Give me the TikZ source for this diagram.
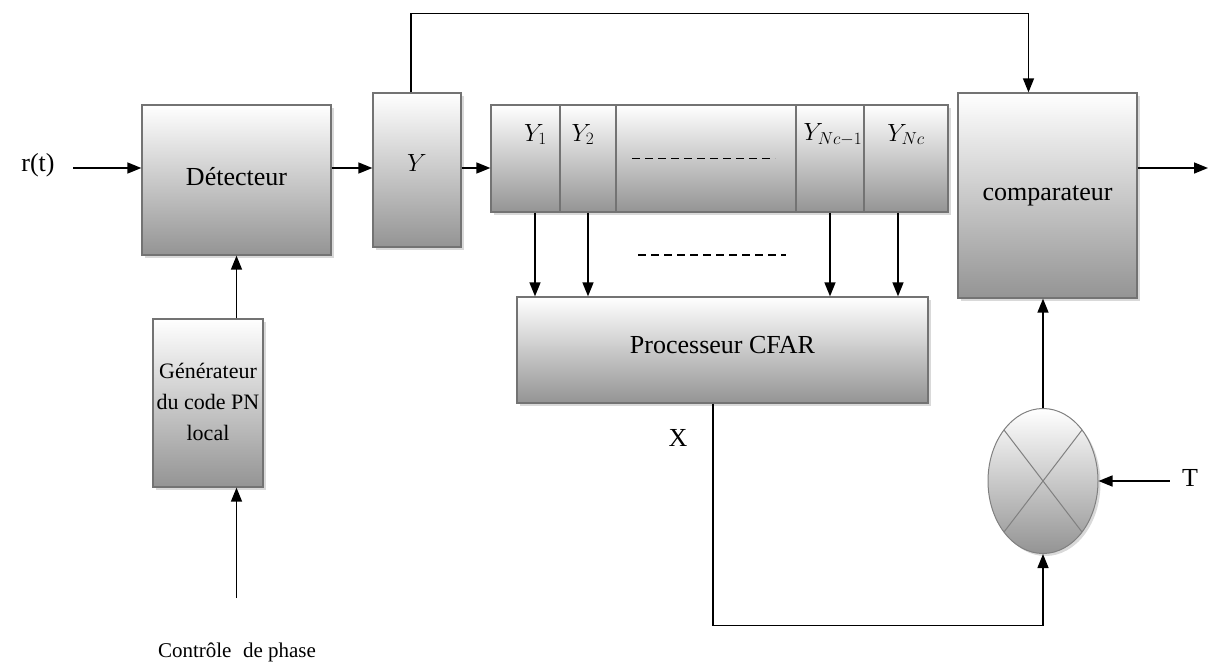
\documentclass[tikz,border=0pt]{standalone}
\usepackage{fontspec}
\setmainfont{Liberation Serif}
\usetikzlibrary{arrows.meta,shapes.geometric,shadows}
\begin{document}
\begin{tikzpicture}[x=1pt,y=-1pt,
  shade/.style={top color=white, bottom color=black!42},
  blk/.style={draw=black!55, line width=1.3pt, shade,
    drop shadow={shadow xshift=2.5pt,shadow yshift=-2.5pt,opacity=0.3},
    inner sep=0pt, font=\fontsize{26}{30}\selectfont},
  cell/.style={draw=black!55, line width=1.3pt, shade, inner sep=0pt, minimum height=107pt},
  arr/.style={line width=1.5pt, -{Triangle[length=14pt,width=11pt]}},
  ln/.style={line width=1.5pt},
  lbl/.style={font=\fontsize{26}{30}\selectfont, inner sep=0pt},
  ylab/.style={font=\fontsize{25}{28}\selectfont, inner sep=0pt}]
\useasboundingbox (0,0) rectangle (1211,670);

% blocks
\node[blk, minimum width=189pt, minimum height=150pt] (det) at (236.5,180) {\raisebox{8pt}{Détecteur}};
\node[blk, minimum width=88pt, minimum height=154pt] (yb) at (417,170) {\raisebox{14pt}{$Y$}};
\node[blk, minimum width=457pt, minimum height=107pt] (reg) at (719.5,158.5) {};
\node[cell, minimum width=69pt] (c1) at (525.5,158.5) {};
\node[cell, minimum width=56pt] (c2) at (588,158.5) {};
\node[cell, minimum width=180pt] (cd) at (706,158.5) {};
\node[cell, minimum width=68pt] (c3) at (830,158.5) {};
\node[cell, minimum width=84pt] (c4) at (906,158.5) {};
\node[ylab] (l1) at ([xshift=10pt,yshift=24pt]c1.center) {$Y_1$};
\node[ylab] (l2) at ([xshift=-5pt,yshift=24pt]c2.center) {$Y_2$};
\node[ylab] (l3) at ([xshift=3pt,yshift=24pt]c3.center) {$Y_{Nc-1}$};
\node[ylab] (l4) at ([yshift=24pt]c4.center) {$Y_{Nc}$};
\draw[ln, dash pattern=on 8pt off 5pt] ([xshift=-74pt]cd.center) -- ([xshift=69pt]cd.center);

\node[blk, minimum width=179pt, minimum height=205pt] (comp) at (1047.5,195.5) {comparateur};
\node[blk, minimum width=411pt, minimum height=106pt] (cfar) at (722.5,350) {\raisebox{10pt}{Processeur CFAR}};
\node[blk, minimum width=110pt, minimum height=168pt, font=\fontsize{22}{31}\selectfont] (gen) at (208,403)
  {\raisebox{24pt}{\begin{tabular}{@{}c@{}}Générateur\\du code PN\\local\end{tabular}}};

\node[ellipse, draw=black!50, line width=1pt, shade,
  drop shadow={shadow xshift=2.5pt,shadow yshift=-2.5pt,opacity=0.3},
  minimum width=110pt, minimum height=145pt, inner sep=0pt] (mul) at (1043,481) {};
\draw[black!50, line width=1pt]
  ([shift={(-39,-51)}]mul.center) -- ([shift={(39,51)}]mul.center)
  ([shift={(39,-51)}]mul.center) -- ([shift={(-39,51)}]mul.center);

% labels
\node[lbl] (rt) at (38,165) {r(t)};
\node[lbl] (X) at (678,438) {X};
\node[lbl] (T) at (1190,478) {T};
\node[font=\fontsize{21}{25}\selectfont, inner sep=0pt] (ctrl) at (237,652) {Contrôle\hspace{0.55em}de phase};
\coordinate (rin) at (73,168);
\coordinate (out) at (1208,168);
\coordinate (cin) at (236.5,598);

% connectors
\draw[arr] (rin) -- (rin -| det.west);
\draw[arr] (det.east |- rin) -- (yb.west |- rin);
\draw[arr] (yb.east |- rin) -- (reg.west |- rin);
\draw[arr] (comp.east |- rin) -- (out);
\draw[arr] ([xshift=-6pt]yb.north) -- ++(0,-79) -| ([xshift=-19pt]comp.north);
\draw[arr] (gen.north -| det.south) -- (det.south);
\draw[arr] (cin) -- (cin |- gen.south);
\draw[arr] ([xshift=9.5pt]c1.south) -- ([xshift=9.5pt]c1.south |- cfar.north);
\draw[arr] (c2.south) -- (c2.south |- cfar.north);
\draw[arr] (c3.south) -- (c3.south |- cfar.north);
\draw[arr] ([xshift=-8pt]c4.south) -- ([xshift=-8pt]c4.south |- cfar.north);
\draw[ln, dash pattern=on 8pt off 5pt] (638,255) -- (786,255);
\draw[arr] ([xshift=-9.5pt]cfar.south) -- ++(0,222) -| (mul.south);
\draw[arr] (mul.north) -- (mul.north |- comp.south);
\draw[arr] ([xshift=-12pt]T.west |- mul.east) -- (mul.east);
\end{tikzpicture}
\end{document}
